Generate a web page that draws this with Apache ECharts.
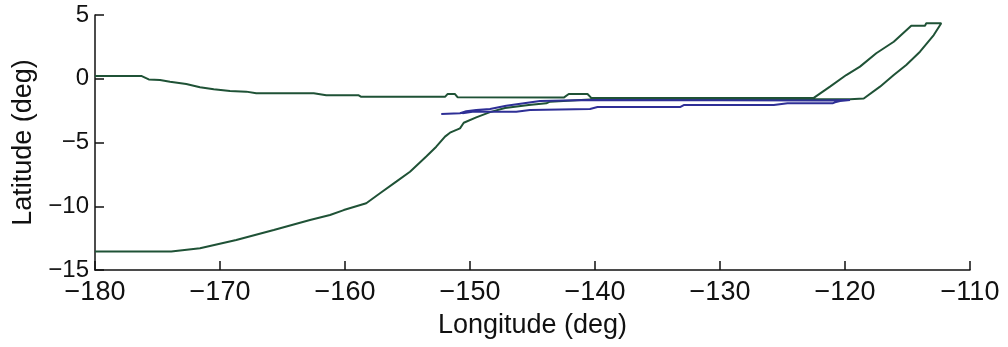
<!DOCTYPE html>
<html><head><meta charset="utf-8">
<script src="https://cdn.jsdelivr.net/npm/echarts@6/dist/echarts.min.js"></script>
<style>html,body{margin:0;padding:0;background:#fff}#c{width:1008px;height:347px}</style>
</head><body><div id="c"></div>
<script>
// Green trajectory: [longitude, latitude]
const greenLon = [-180,-176.3,-175.7,-174.8,-174,-172.7,-171.6,-170.5,-169.2,-167.9,-167.1,-162.5,-161.5,-158.9,-158.7,-152,-151.8,-151.2,-151,-142.5,-142.1,-140.6,-140.3,-122.5,
  -121.2,-119.9,-118.8,-117.5,-116.1,-114.7,-113.6,-113.5,-112.3,-112.9,-114,-115.1,-116.1,-117.2,-118.5,-119.6,-125,-135,-140.4,-143.6,-143.9,-145.3,-147.2,-148.4,-149.5,-150.5,-150.8,-151.6,-152,-152.7,-153.5,-154.8,-155.9,-157.2,-158.3,-160.1,-161.2,-162.8,-165.7,-168.7,-171.6,-173.9,-180];
const greenLat = [0.22,0.22,-0.05,-0.1,-0.23,-0.41,-0.67,-0.83,-0.96,-1.01,-1.14,-1.14,-1.3,-1.3,-1.42,-1.42,-1.2,-1.2,-1.45,-1.48,-1.2,-1.2,-1.5,-1.5,
  -0.62,0.29,0.95,2.0,2.9,4.16,4.16,4.35,4.35,3.43,2.12,1.08,0.29,-0.62,-1.55,-1.6,-1.6,-1.62,-1.62,-1.8,-1.93,-2.05,-2.3,-2.62,-3.03,-3.45,-3.89,-4.23,-4.54,-5.33,-6.1,-7.29,-8.07,-8.98,-9.77,-10.3,-10.69,-11.08,-11.86,-12.65,-13.3,-13.55,-13.55];
// Blue trajectory
const blueLon = [-152.3,-150.8,-150.3,-149.5,-148.4,-147.1,-144.4,-140.4,-130,-122,-119.6,-120.4,-120.8,-121,-124.6,-125.7,-132.9,-133.2,-139.8,-140.4,-145.2,-146.3,-149.8,-150.6];
const blueLat = [-2.76,-2.7,-2.55,-2.45,-2.37,-2.11,-1.75,-1.66,-1.68,-1.7,-1.67,-1.75,-1.85,-1.93,-1.93,-2.06,-2.06,-2.22,-2.22,-2.37,-2.45,-2.58,-2.58,-2.7];
const xTicks = [-180,-170,-160,-150,-140,-130,-120,-110];
const yTicks = [-15,-10,-5,0,5];

const zip = (a,b) => a.map((v,i)=>[v,b[i]]);
const fmt = v => String(v).replace('-', '\u2212');
const chart = echarts.init(document.getElementById('c'), null, {renderer:'canvas'});
const axisCommon = {
  axisLine:{show:true, onZero:false, lineStyle:{color:'#111', width:1.5}},
  axisTick:{show:true, inside:true, length:9, lineStyle:{color:'#111', width:1.5}},
  splitLine:{show:false},
  nameTextStyle:{fontFamily:'Liberation Sans', fontSize:27, color:'#111'}
};
chart.setOption({
  backgroundColor:'#fff',
  animation:false,
  grid:{left:95, right:38, top:15, bottom:77, containLabel:false, outerBoundsMode:'none'},
  xAxis:Object.assign({}, axisCommon, {
    type:'value', min:xTicks[0], max:xTicks[xTicks.length-1], interval:10,
    name:'Longitude (deg)', nameLocation:'middle', nameGap:42,
    axisLabel:{formatter:fmt, fontFamily:'Liberation Sans', fontSize:27, color:'#111', margin:9}
  }),
  yAxis:Object.assign({}, axisCommon, {
    type:'value', min:yTicks[0], max:yTicks[yTicks.length-1], interval:5,
    name:'Latitude (deg)', nameLocation:'middle', nameGap:57,
    axisLabel:{formatter:fmt, fontFamily:'Liberation Sans', fontSize:24, color:'#111', margin:6}
  }),
  series:[
    {type:'line', data:zip(greenLon, greenLat), showSymbol:false, lineStyle:{color:'#1f5236', width:2}, z:2},
    {type:'line', data:zip(blueLon, blueLat), showSymbol:false, lineStyle:{color:'#2e2f96', width:2}, z:3}
  ]
});
</script></body></html>
